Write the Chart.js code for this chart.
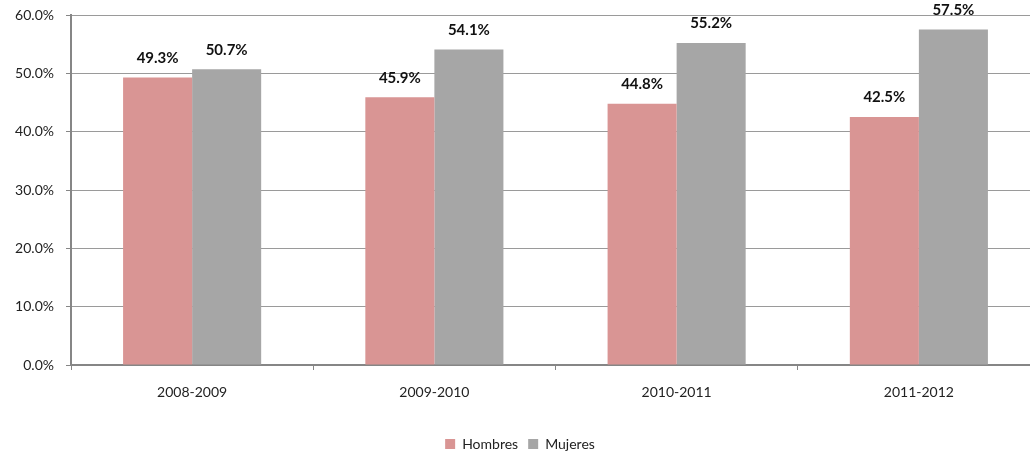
<!DOCTYPE html>
<html>
<head>
<meta charset="utf-8">
<script src="https://cdn.jsdelivr.net/npm/chart.js@4/dist/chart.umd.min.js"></script>
<style>
  html, body { margin: 0; padding: 0; background: #fff; overflow: hidden; }
  #wrap { width: 1040px; height: 457px; position: relative; }
</style>
</head>
<body>
<div id="wrap"><canvas id="chart"></canvas></div>
<script>
const categories = ['2008-2009', '2009-2010', '2010-2011', '2011-2012'];
const hombres = [49.3, 45.9, 44.8, 42.5];
const mujeres = [50.7, 54.1, 55.2, 57.5];

const FONT = "Lato, 'Open Sans', sans-serif";

// etiquetas encima de cada barra
const barLabels = {
    id: 'barLabels',
    afterDatasetsDraw(chart) {
        const ctx = chart.ctx;
        ctx.save();
        ctx.font = "bold 15px " + FONT;
        ctx.fillStyle = '#111';
        ctx.textAlign = 'center';
        ctx.textBaseline = 'bottom';
        chart.data.datasets.forEach((ds, i) => {
            chart.getDatasetMeta(i).data.forEach((bar, j) => {
                ctx.fillText(ds.data[j].toFixed(1) + '%', bar.x, bar.y - 12);
            });
        });
        ctx.restore();
    }
};

new Chart(document.getElementById('chart'), {
    type: 'bar',
    data: {
        labels: categories,
        datasets: [
            { label: 'Hombres', data: hombres, backgroundColor: '#D99594', categoryPercentage: 0.57, barPercentage: 1 },
            { label: 'Mujeres', data: mujeres, backgroundColor: '#A6A6A6', categoryPercentage: 0.57, barPercentage: 1 }
        ]
    },
    options: {
        responsive: true,
        maintainAspectRatio: false,
        animation: false,
        layout: { padding: { top: 15, left: 0, right: 0, bottom: -4 } },
        scales: {
            x: {
                grid: { drawOnChartArea: false, drawTicks: true, tickLength: 5, tickColor: '#868686', offset: true },
                border: { color: '#868686', width: 2 },
                ticks: { color: '#222', font: { family: FONT, size: 14 }, padding: 14 },
                afterFit(scale) { scale.height = 62; }
            },
            y: {
                min: 0, max: 60,
                grid: { color: '#9a9a9a', borderDash: [2, 2], tickLength: 5, tickColor: '#868686', tickBorderDash: [] },
                border: { color: '#868686', width: 2, dash: [] },
                ticks: {
                    stepSize: 10, color: '#222', font: { family: FONT, size: 14 }, padding: 12,
                    callback: v => v.toFixed(1) + '%'
                },
                afterFit(scale) { scale.width = 71; scale.paddingTop = 0; scale.paddingBottom = 0; }
            }
        },
        plugins: {
            legend: {
                position: 'bottom',
                labels: { boxWidth: 10, boxHeight: 10, padding: 10, color: '#222', font: { family: FONT, size: 14 } }
            },
            tooltip: { enabled: false }
        }
    },
    plugins: [barLabels]
});
</script>
</body>
</html>
